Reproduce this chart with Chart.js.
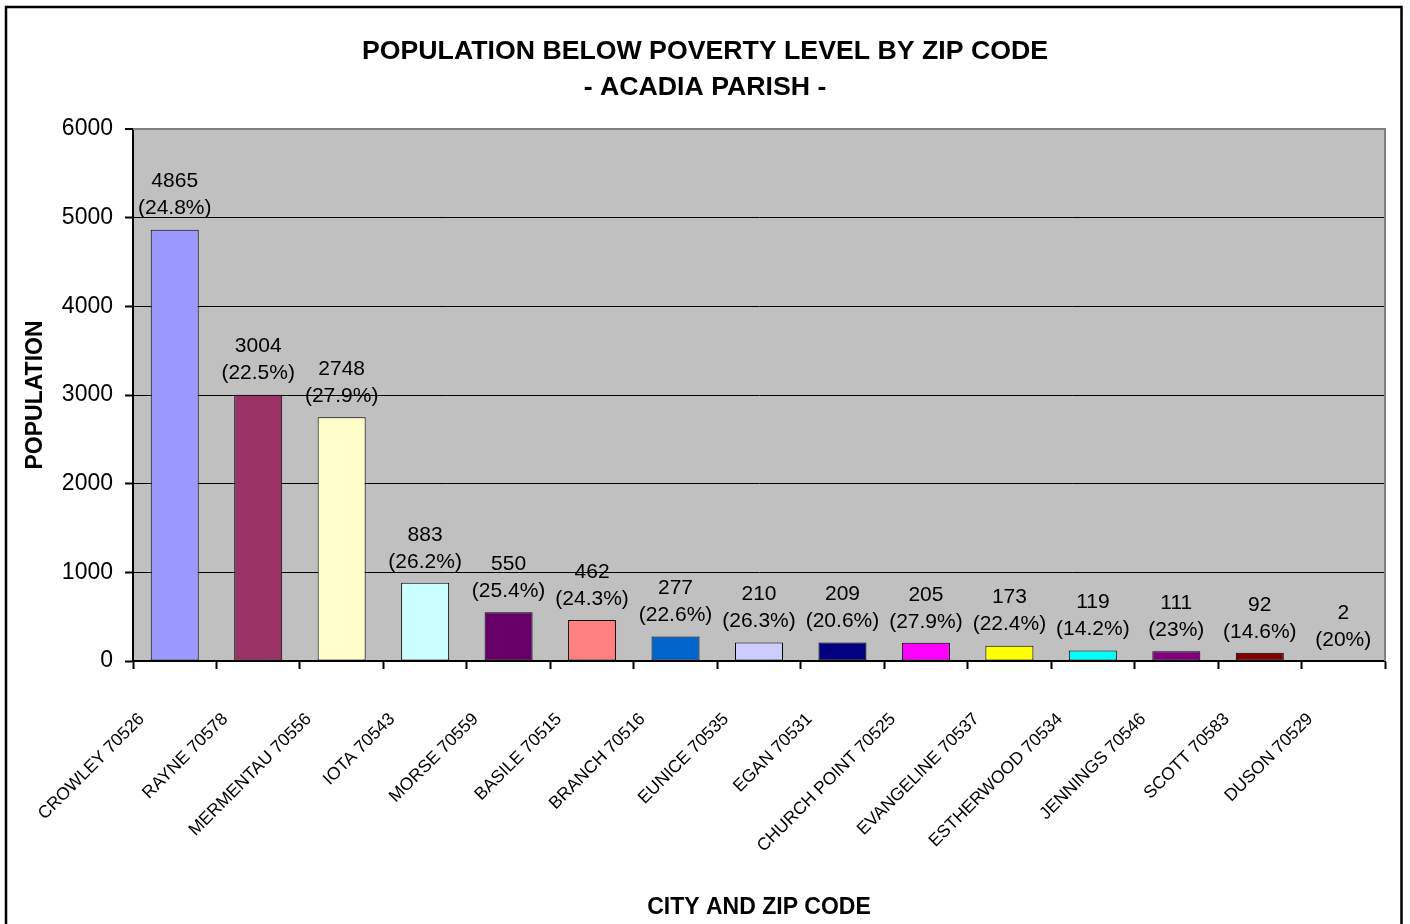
<!DOCTYPE html>
<html>
<head>
<meta charset="utf-8">
<script src="https://cdn.jsdelivr.net/npm/chart.js@4/dist/chart.umd.min.js"></script>
<style>
  html, body { margin: 0; padding: 0; background: #fff; }
  #wrap { width: 1410px; height: 924px; }
</style>
</head>
<body>
<div id="wrap"><canvas id="c" width="1410" height="924"></canvas></div>
<script>
const categories = ['CROWLEY 70526','RAYNE 70578','MERMENTAU 70556','IOTA 70543','MORSE 70559','BASILE 70515','BRANCH 70516','EUNICE 70535','EGAN 70531','CHURCH POINT 70525','EVANGELINE 70537','ESTHERWOOD 70534','JENNINGS 70546','SCOTT 70583','DUSON 70529'];
const population = [4865, 3004, 2748, 883, 550, 462, 277, 210, 209, 205, 173, 119, 111, 92, 2];
const percentBelow = [24.8, 22.5, 27.9, 26.2, 25.4, 24.3, 22.6, 26.3, 20.6, 27.9, 22.4, 14.2, 23, 14.6, 20];
const barColors = ['#9999FF','#993366','#FFFFCC','#CCFFFF','#660066','#FF8080','#0066CC','#CCCCFF','#000080','#FF00FF','#FFFF00','#00FFFF','#800080','#800000','#008080'];
const yTicks = [0, 1000, 2000, 3000, 4000, 5000, 6000];

const FONT = 'Arial, "Liberation Sans", Helvetica, sans-serif';

const bgPlugin = {
  id: 'bg',
  beforeDraw(chart) {
    const ctx = chart.ctx, a = chart.chartArea;
    ctx.save();
    ctx.fillStyle = '#fff';
    ctx.fillRect(0, 0, chart.width, chart.height);
    ctx.fillStyle = '#C0C0C0';
    ctx.fillRect(a.left, a.top, a.right - a.left, a.bottom - a.top);
    ctx.restore();
  },
  beforeDatasetsDraw(chart) {
    const ctx = chart.ctx, a = chart.chartArea;
    ctx.save();
    ctx.strokeStyle = '#808080';
    ctx.lineWidth = 2;
    ctx.beginPath();
    ctx.moveTo(a.left, a.top);
    ctx.lineTo(a.right, a.top);
    ctx.lineTo(a.right, a.bottom);
    ctx.stroke();
    ctx.restore();
  },
  afterDatasetsDraw(chart) {
    const ctx = chart.ctx;
    const meta = chart.getDatasetMeta(0);
    ctx.save();
    ctx.font = '21px ' + FONT;
    ctx.fillStyle = '#000';
    ctx.textAlign = 'center';
    ctx.textBaseline = 'middle';
    meta.data.forEach((el, i) => {
      ctx.fillText(String(population[i]), el.x, el.y - 48);
      ctx.fillText('(' + percentBelow[i] + '%)', el.x, el.y - 21);
    });
    ctx.restore();
  },
  afterDraw(chart) {
    const ctx = chart.ctx;
    ctx.save();
    ctx.strokeStyle = '#000';
    ctx.lineWidth = 2.5;
    ctx.beginPath();
    ctx.moveTo(6, chart.height + 5);
    ctx.lineTo(6, 7);
    ctx.lineTo(1401.5, 7);
    ctx.lineTo(1401.5, chart.height + 5);
    ctx.stroke();
    ctx.restore();
  }
};

new Chart(document.getElementById('c'), {
  type: 'bar',
  data: {
    labels: categories,
    datasets: [{
      data: population,
      backgroundColor: barColors,
      borderColor: '#000',
      borderWidth: 1,
      borderSkipped: false,
      categoryPercentage: 1,
      barPercentage: 0.575
    }]
  },
  options: {
    responsive: false,
    animation: false,
    devicePixelRatio: 1,
    layout: { padding: { top: 0, left: 25, right: 25, bottom: 0 } },
    plugins: {
      legend: { display: false },
      tooltip: { enabled: false },
      title: {
        display: true,
        text: ['POPULATION BELOW POVERTY LEVEL BY ZIP CODE', '- ACADIA PARISH -'],
        color: '#000',
        font: { family: FONT, size: 26.7, weight: 'bold', lineHeight: 36 / 26.7 },
        padding: { top: 34, bottom: 23 }
      }
    },
    scales: {
      x: {
        type: 'category',
        offset: true,
        grid: { display: true, drawOnChartArea: false, drawTicks: true, tickLength: 8, tickColor: '#000', tickWidth: 2, offset: true },
        border: { display: true, color: '#000', width: 2 },
        ticks: {
          autoSkip: false, maxRotation: 45, minRotation: 45, labelOffset: -33, padding: 40,
          color: '#000', font: { family: FONT, size: 17.5 }
        },
        title: {
          display: true, text: 'CITY AND ZIP CODE', color: '#000',
          font: { family: FONT, size: 23, weight: 'bold' },
          padding: { top: 0, bottom: 3 }
        },
        afterFit(s) { s.height = 263; }
      },
      y: {
        min: 0, max: 6000,
        afterBuildTicks(s) { s.ticks = yTicks.map(v => ({ value: v })); },
        grid: {
          display: true, drawOnChartArea: true, drawTicks: true, tickLength: 8,
          color: (c) => (c.tick && c.tick.value === 6000) ? '#808080' : '#000',
          lineWidth: (c) => (c.tick && c.tick.value === 6000) ? 2 : 1,
          tickColor: '#000', tickWidth: 2
        },
        border: { display: true, color: '#000', width: 2 },
        ticks: { padding: 12, color: '#000', font: { family: FONT, size: 23 }, callback: (v) => String(v) },
        title: {
          display: true, text: 'POPULATION', color: '#000',
          font: { family: FONT, size: 23, weight: 'bold', lineHeight: 0.85 },
          padding: { top: 1, bottom: 0 }
        },
        afterFit(s) { s.width = 108; }
      }
    }
  },
  plugins: [bgPlugin]
});
</script>
</body>
</html>
